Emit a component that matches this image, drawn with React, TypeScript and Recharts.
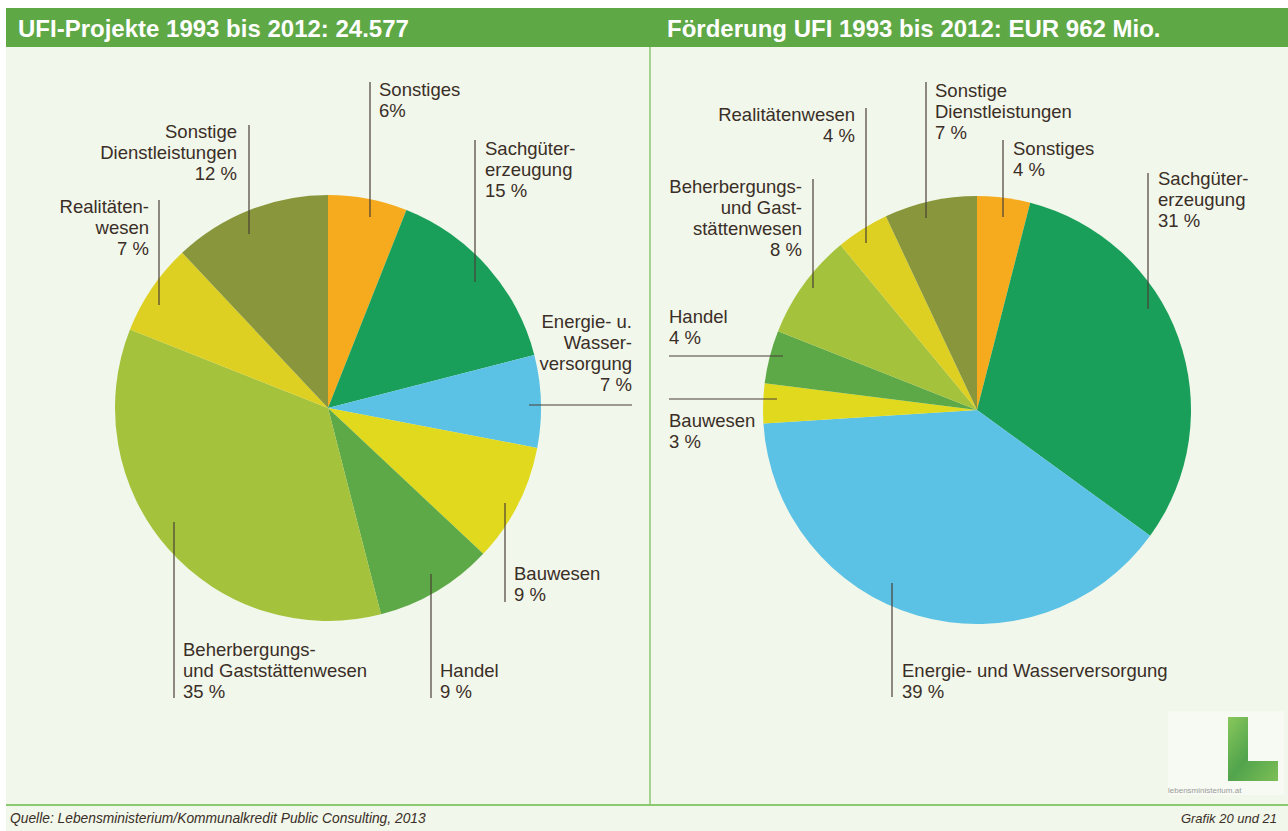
import React from 'react';
import { Pie, PieChart } from 'recharts';

// Two UFI pies: number of projects vs. funding volume by sector, 1993–2012.
// Slices run clockwise from 12 o'clock; labels sit on hand-placed leader lines
// like in the printed report.

const CATEGORIES = [
  'Sonstiges',
  'Sachgütererzeugung',
  'Energie- und Wasserversorgung',
  'Bauwesen',
  'Handel',
  'Beherbergungs- und Gaststättenwesen',
  'Realitätenwesen',
  'Sonstige Dienstleistungen',
];

const PROJECTS = [6, 15, 7, 9, 9, 35, 7, 12];
const FUNDING = [4, 31, 39, 3, 4, 8, 4, 7];

const COLORS = ['#f6ab1e', '#199f5a', '#5bc2e5', '#e0d91d', '#5ea947', '#a4c23b', '#ddd022', '#89963b'];

const LEFT_TEXT = [
  ['Sonstiges'],
  ['Sachgüter-', 'erzeugung'],
  ['Energie- u.', 'Wasser-', 'versorgung'],
  ['Bauwesen'],
  ['Handel'],
  ['Beherbergungs-', 'und Gaststättenwesen'],
  ['Realitäten-', 'wesen'],
  ['Sonstige', 'Dienstleistungen'],
];

const RIGHT_TEXT = [
  ['Sonstiges'],
  ['Sachgüter-', 'erzeugung'],
  ['Energie- und Wasserversorgung'],
  ['Bauwesen'],
  ['Handel'],
  ['Beherbergungs-', 'und Gast-', 'stättenwesen'],
  ['Realitätenwesen'],
  ['Sonstige', 'Dienstleistungen'],
];

const TITLE_LEFT = 'UFI-Projekte 1993 bis 2012: 24.577';
const TITLE_RIGHT = 'Förderung UFI 1993 bis 2012: EUR 962 Mio.';
const SOURCE = 'Quelle: Lebensministerium/Kommunalkredit Public Consulting, 2013';
const CAPTION = 'Grafik 20 und 21';

type Place = { line: [number, number, number, number]; x: number; y: number; anchor: 'start' | 'end' };

// label placement, relative to the pie centre
const LEFT_PLACE: Place[] = [
  { line: [42, -326, 42, -191], x: 51, y: -312, anchor: 'start' },
  { line: [147, -268, 147, -126], x: 157, y: -253, anchor: 'start' },
  { line: [201, -3, 304, -3], x: 304, y: -80, anchor: 'end' },
  { line: [177, 95, 177, 194], x: 186, y: 172, anchor: 'start' },
  { line: [103, 166, 103, 290], x: 112, y: 269, anchor: 'start' },
  { line: [-154, 114, -154, 290], x: -145, y: 248, anchor: 'start' },
  { line: [-169, -208, -169, -103], x: -179, y: -195, anchor: 'end' },
  { line: [-79, -283, -79, -174], x: -91, y: -270, anchor: 'end' },
];

const RIGHT_PLACE: Place[] = [
  { line: [26, -270, 26, -193], x: 36, y: -255, anchor: 'start' },
  { line: [171, -237, 171, -101], x: 181, y: -225, anchor: 'start' },
  { line: [-85, 173, -85, 287], x: -75, y: 267, anchor: 'start' },
  { line: [-308, -11, -200, -11], x: -308, y: 17, anchor: 'start' },
  { line: [-308, -54, -194, -54], x: -308, y: -87, anchor: 'start' },
  { line: [-164, -231, -164, -122], x: -175, y: -217, anchor: 'end' },
  { line: [-111, -302, -111, -167], x: -122, y: -289, anchor: 'end' },
  { line: [-51, -328, -51, -192], x: -42, y: -313, anchor: 'start' },
];

const FONT = '"Liberation Sans", Arial, Helvetica, sans-serif';
const INK = '#3a2e27';
const GREEN = '#5fa846';
const PANEL = '#f1f7ea';

const W = 1282;
const H = 757;
const LEFT_C = { x: 322, y: 361 };
const RIGHT_C = { x: 971, y: 363 };

const makeLabel = (text: string[][], place: Place[], tightFirst: boolean) => (props: any) => {
  const i = props.index as number;
  const p = place[i];
  const cx = Number(props.cx);
  const cy = Number(props.cy);
  const v = props.value;
  const pct = tightFirst && i === 0 ? `${v}%` : `${v} %`;
  const lines = [...text[i], pct];
  return (
    <g key={`lbl-${i}`}>
      <line
        x1={cx + p.line[0]}
        y1={cy + p.line[1]}
        x2={cx + p.line[2]}
        y2={cy + p.line[3]}
        stroke="#4a3f36"
        strokeWidth={1.2}
      />
      <text
        x={cx + p.x}
        y={cy + p.y}
        textAnchor={p.anchor}
        fontFamily={FONT}
        fontSize={18.5}
        fill={INK}
      >
        {lines.map((t, k) => (
          <tspan key={k} x={cx + p.x} dy={k === 0 ? 0 : 21}>
            {t}
          </tspan>
        ))}
      </text>
    </g>
  );
};

const build = (values: number[]) =>
  CATEGORIES.map((name, i) => ({ name, value: values[i], fill: COLORS[i] }));

export default function App() {
  const left = build(PROJECTS);
  const right = build(FUNDING);

  return (
    <div
      style={{
        position: 'absolute',
        left: 6,
        top: 8,
        width: W,
        height: 823,
        background: PANEL,
        fontFamily: FONT,
      }}
    >
      <div
        style={{
          height: 39,
          background: GREEN,
          color: '#fff',
          fontWeight: 700,
          fontSize: 24,
          position: 'relative',
        }}
      >
        <span style={{ position: 'absolute', left: 12, top: 7 }}>{TITLE_LEFT}</span>
        <span style={{ position: 'absolute', left: 661, top: 7 }}>{TITLE_RIGHT}</span>
      </div>
      <div style={{ position: 'relative', width: W, height: H }}>
        <div
          style={{ position: 'absolute', left: 643, top: 0, width: 2, height: H, background: '#a6d28f' }}
        />
        <div style={{ position: 'absolute', left: 0, top: 0 }}>
          <PieChart width={W} height={H} margin={{ top: 0, right: 0, bottom: 0, left: 0 }}>
            <Pie
              data={left}
              dataKey="value"
              nameKey="name"
              cx={LEFT_C.x}
              cy={LEFT_C.y}
              outerRadius={213}
              startAngle={90}
              endAngle={-270}
              stroke="none"
              labelLine={false}
              label={makeLabel(LEFT_TEXT, LEFT_PLACE, true)}
              isAnimationActive={false}
            />
            <Pie
              data={right}
              dataKey="value"
              nameKey="name"
              cx={RIGHT_C.x}
              cy={RIGHT_C.y}
              outerRadius={214}
              startAngle={90}
              endAngle={-270}
              stroke="none"
              labelLine={false}
              label={makeLabel(RIGHT_TEXT, RIGHT_PLACE, false)}
              isAnimationActive={false}
            />
          </PieChart>
        </div>
        <svg
          width={120}
          height={90}
          style={{ position: 'absolute', left: 1160, top: 664 }}
        >
          <defs>
            <linearGradient id="lg" x1="0" y1="0" x2="1" y2="1">
              <stop offset="0" stopColor="#7cc24a" />
              <stop offset="0.5" stopColor="#3f9a3a" />
              <stop offset="1" stopColor="#6fb845" />
            </linearGradient>
          </defs>
          <rect x={2} y={0} width={116} height={84} fill="#f7faf3" />
          <path d="M62 6 H82 V50 H112 V70 H62 Z" fill="url(#lg)" opacity={0.9} />
          <text x={2} y={82} fontSize={8} fill="#9a9a9a" fontFamily={FONT}>
            lebensministerium.at
          </text>
        </svg>
      </div>
      <div style={{ height: 2, background: '#8cc86e' }} />
      <div
        style={{
          position: 'relative',
          height: 25,
          fontStyle: 'italic',
          color: INK,
        }}
      >
        <span style={{ position: 'absolute', left: 4, top: 5, fontSize: 13.8 }}>{SOURCE}</span>
        <span style={{ position: 'absolute', right: 11, top: 5, fontSize: 13 }}>{CAPTION}</span>
      </div>
    </div>
  );
}
